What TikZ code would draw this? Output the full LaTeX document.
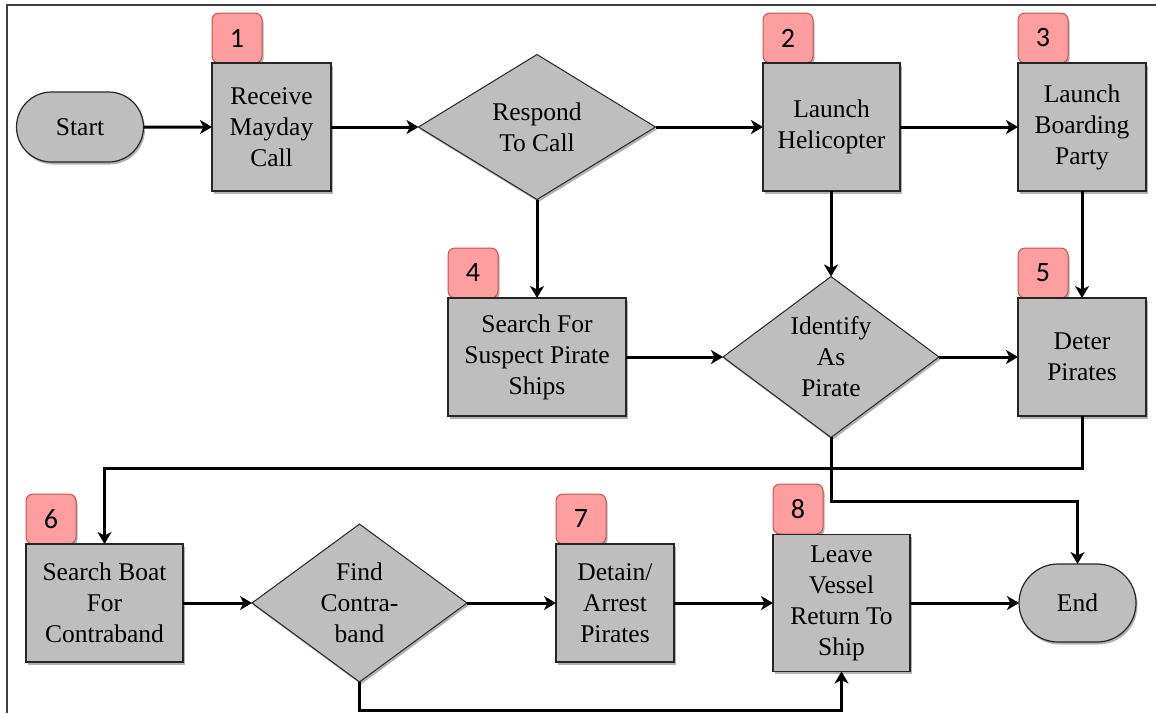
\documentclass[tikz,border=0pt]{standalone}
\usepackage{fontspec}
\newfontfamily\stepserif{Liberation Serif}
\newfontfamily\badgefont{Carlito}
\usetikzlibrary{shapes.geometric,shapes.misc,arrows.meta,shadows}

\definecolor{boxgrey}{RGB}{190,190,190}
\definecolor{badgefill}{RGB}{255,158,158}
\definecolor{badgeline}{RGB}{196,84,82}
\newcommand\flowfont{\stepserif\fontsize{25.5}{31}\selectfont}

\begin{document}
\begin{tikzpicture}[x=1pt,y=-1pt,
  softshadow/.style={drop shadow={shadow xshift=1.5pt,shadow yshift=-2.5pt,opacity=0.3,fill=black}},
  flowbox/.style={rectangle,draw=black!85,line width=1.2pt,fill=boxgrey,inner sep=0pt,outer sep=0pt,
    align=center,font=\flowfont,softshadow},
  flowterm/.style={rounded rectangle,draw=black!85,line width=1.2pt,fill=boxgrey,inner sep=0pt,outer sep=0pt,
    align=center,font=\flowfont,softshadow},
  flowdecide/.style={diamond,draw=black!85,line width=1pt,fill=boxgrey,inner sep=0pt,outer sep=0pt,
    align=center,font=\flowfont,softshadow},
  badge/.style={rectangle,rounded corners=7pt,draw=badgeline,line width=1pt,fill=badgefill,
    minimum width=50pt,minimum height=50pt,inner sep=0pt,outer sep=0pt,anchor=south west,
    font=\badgefont\fontsize{28}{30}\selectfont,softshadow},
  conn/.style={line width=3pt,-{Stealth[length=12pt,width=14pt,inset=3.5pt]}}
]
\useasboundingbox (0,0) rectangle (1156,713);

% frame
\draw[line width=1.5pt,black!75] (7,713) -- (7,5) -- (1156,5);

% step number badges (drawn first so the box edges sit over them)
\node[badge] (b1) at (212,63) {1};
\node[badge] (b2) at (763,63) {2};
\node[badge] (b3) at (1018,63) {3};
\node[badge] (b4) at (448,298) {4};
\node[badge] (b5) at (1018,298) {5};
\node[badge] (b6) at (26,544) {6};
\node[badge] (b7) at (556,544) {7};
\node[badge] (b8) at (773,534) {8};

% first row
\node[flowterm,minimum width=127pt,minimum height=70pt] (start) at (80,127) {Start};
\node[flowbox,minimum width=119pt,minimum height=128pt] (recv) at (271.5,127) {Receive\\Mayday\\Call};
\node[flowdecide,minimum width=237pt,minimum height=145pt] (resp) at (537,127) {Respond\\To Call};
\node[flowbox,minimum width=137pt,minimum height=128pt] (heli) at (831.5,127) {Launch\\Helicopter};
\node[flowbox,minimum width=128pt,minimum height=128pt] (board) at (1082,127) {Launch\\Boarding\\Party};

% second row
\node[flowbox,minimum width=178pt,minimum height=118pt] (search) at (537,357) {Search For\\Suspect Pirate\\Ships};
\node[flowdecide,minimum width=216pt,minimum height=156pt] (ident) at (831,357) {Identify\\As\\Pirate};
\node[flowbox,minimum width=128pt,minimum height=118pt] (deter) at (1082,357) {Deter\\Pirates};

% third row
\node[flowbox,minimum width=157pt,minimum height=118pt] (sboat) at (104.5,603) {Search Boat\\For\\Contraband};
\node[flowdecide,minimum width=215pt,minimum height=156pt] (find) at (359.5,603) {Find\\Contra-\\band};
\node[flowbox,minimum width=118pt,minimum height=118pt] (detain) at (615,603) {Detain/\\Arrest\\Pirates};
\node[flowbox,minimum width=137pt,minimum height=137pt] (leave) at (841.5,603) {Leave\\Vessel\\Return To\\Ship};
\node[flowterm,minimum width=117pt,minimum height=78pt] (end) at (1077.5,603) {End};

% connectors
\draw[conn] (start) -- (recv);
\draw[conn] (recv) -- (resp);
\draw[conn] (resp) -- (heli);
\draw[conn] (heli) -- (board);
\draw[conn] (resp.south) -- (search.north);
\draw[conn] (heli.south -| ident.north) -- (ident.north);
\draw[conn] (board.south) -- (deter.north);
\draw[conn] (search) -- (ident);
\draw[conn] (ident) -- (deter);
\draw[conn] (deter.south) -- ++(0,52) -| (sboat.north);
\draw[conn] (ident.south) -- ++(0,64) -| (end.north);
\draw[conn] (sboat) -- (find);
\draw[conn] (find) -- (detain);
\draw[conn] (detain) -- (leave);
\draw[conn] (leave) -- (end);
\draw[conn] (find.south) -- ++(0,29) -| (leave.south);
\end{tikzpicture}
\end{document}
